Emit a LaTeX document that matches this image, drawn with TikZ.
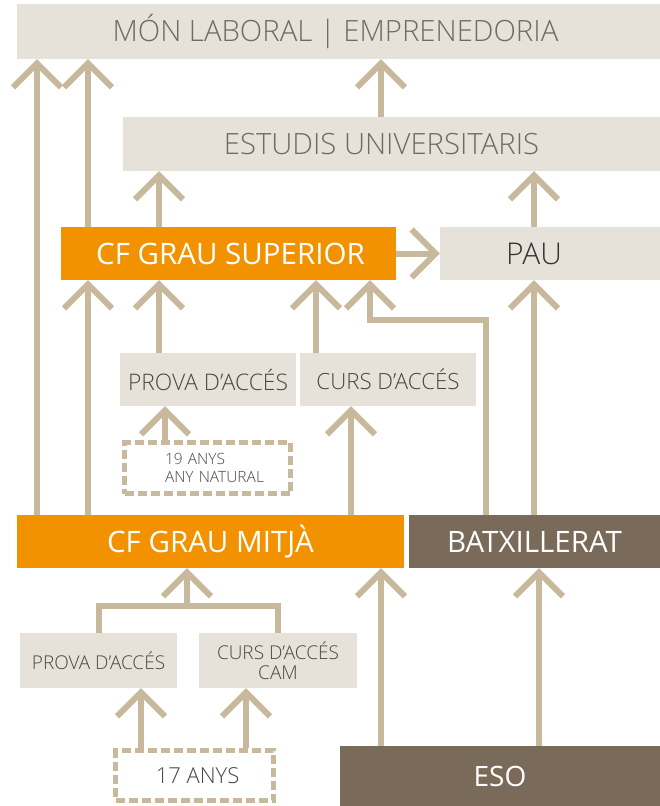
\documentclass[tikz,border=0pt]{standalone}
\usepackage{fontspec}
\setmainfont{Open Sans}
\IfFontExistsTF{Open Sans Light}{\newfontfamily\lightf{Open Sans Light}}{\newfontfamily\lightf{Open Sans}}
\usetikzlibrary{arrows.meta}
\definecolor{linec}{HTML}{C9B99C}
\definecolor{boxc}{HTML}{E7E2D9}
\definecolor{orangec}{HTML}{F39200}
\definecolor{brownc}{HTML}{7A6A5A}
\definecolor{textc}{HTML}{726960}
\definecolor{darkc}{HTML}{4A4540}
\newcommand\fsz[1]{\fontsize{#1}{1.2\dimexpr#1pt\relax}\selectfont}
\begin{document}
\begin{tikzpicture}[x=1pt,y=-1pt,
  lbox/.style={fill=boxc, inner sep=0pt, text=darkc},
  obox/.style={fill=orangec, inner sep=0pt, text=white},
  bbox/.style={fill=brownc, inner sep=0pt, text=white},
  dbox/.style={draw=linec, line width=5pt, dash pattern=on 9pt off 4pt, fill=white, inner sep=0pt, text=darkc},
  conn/.style={draw=linec, line width=6pt},
  arr/.style={conn, -{Straight Barb[sharp, length=24pt, width=48pt]}}]
\useasboundingbox (0,0) rectangle (660,806);

% boxes
\node[lbox, minimum width=643pt, minimum height=55pt, font=\lightf\fsz{29.3}, text=textc] (mon) at (338.5,31.5) {\hspace*{-6pt}M\'ON LABORAL | EMPRENEDORIA};
\node[lbox, minimum width=537pt, minimum height=54pt, font=\lightf\fsz{29.3}, text=textc] (est) at (391.5,144) {\hspace*{-20pt}ESTUDIS UNIVERSITARIS};
\node[obox, minimum width=335pt, minimum height=53pt, font=\fsz{29.5}] (cfgs) at (228.5,253.5) {\hspace*{4pt}CF GRAU SUPERIOR};
\node[lbox, minimum width=220pt, minimum height=53pt, font=\lightf\fsz{30}, text=black!80] (pau) at (550,253.5) {\hspace*{-32pt}PAU};
\node[lbox, minimum width=176pt, minimum height=53pt, font=\lightf\fsz{22.8}] (prova1) at (208,379.5) {PROVA D’ACC\'ES};
\node[lbox, minimum width=176pt, minimum height=53pt, font=\lightf\fsz{22.3}] (curs1) at (388,379.5) {CURS D’ACC\'ES};
\node[dbox, minimum width=166pt, minimum height=51pt, text width=85pt, inner xsep=40.5pt, align=left, font=\lightf\fsz{15.5}] (d19) at (207.5,468) {19 ANYS\\\makebox[85pt][l]{ANY NATURAL}};
\node[obox, minimum width=387pt, minimum height=53pt, font=\fsz{29.5}] (cfgm) at (210.5,541.5) {CF GRAU MITJ\`A};
\node[bbox, minimum width=251pt, minimum height=53pt, font=\fsz{29.5}] (batx) at (534.5,541.5) {BATXILLERAT};
\node[lbox, minimum width=157pt, minimum height=55pt, font=\lightf\fsz{19}] (prova2) at (98.5,660.5) {PROVA D’ACC\'ES};
\node[lbox, minimum width=158pt, minimum height=55pt, font=\lightf\fsz{19}, align=center] (curs2) at (278,660.5) {CURS D’ACC\'ES\\[-3pt]CAM};
\node[dbox, minimum width=158pt, minimum height=50pt, font=\lightf\fsz{22}] (d17) at (194.5,775.5) {\hspace*{6pt}17 ANYS};
\node[bbox, minimum width=320pt, minimum height=60pt, font=\fsz{28}] (eso) at (500,776) {ESO};

% column coordinates
\coordinate (x37) at (37,0);
\coordinate (x88) at (88,0);
\coordinate (x159) at (159,0);
\coordinate (x165) at (165,0);
\coordinate (x316) at (316,0);
\coordinate (x351) at (351,0);
\coordinate (x381) at (381,0);
\coordinate (x534) at (534,0);
\coordinate (x539) at (539,0);
\coordinate (x141) at (141,0);
\coordinate (x246) at (246,0);
\coordinate (k1) at (486,320);
\coordinate (k2) at (370,320);
\coordinate (b1) at (99,606);
\coordinate (b2) at (278,606);
\coordinate (bc) at (187,606);

% connectors
\draw[arr] (cfgm.north -| x37) -- (mon.south -| x37);
\draw[arr] (cfgm.north -| x88) -- (cfgs.south -| x88);
\draw[arr] (cfgs.north -| x88) -- (mon.south -| x88);
\draw[arr] (cfgs.north -| x159) -- (est.south -| x159);
\draw[arr] (est.north -| x381) -- (mon.south -| x381);
\draw[arr] (pau.north -| x534) -- (est.south -| x534);
\draw[arr] (cfgs.east) -- (pau.west);
\draw[arr] (prova1.north -| x159) -- (cfgs.south -| x159);
\draw[arr] (curs1.north -| x316) -- (cfgs.south -| x316);
\draw[arr] (d19.north -| x165) -- (prova1.south -| x165);
\draw[arr] (cfgm.north -| x351) -- (curs1.south -| x351);
\draw[arr] (batx.north -| k1) -- (k1) -- (k2) -- (cfgs.south -| k2);
\draw[arr] (batx.north -| x534) -- (pau.south -| x534);
\draw[conn] (prova2.north -| b1) -- (b1) -- (b2) -- (curs2.north -| b2);
\draw[arr] (bc) -- (cfgm.south -| bc);
\draw[arr] (d17.north -| x141) -- (prova2.south -| x141);
\draw[arr] (d17.north -| x246) -- (curs2.south -| x246);
\draw[arr] (eso.north -| x381) -- (cfgm.south -| x381);
\draw[arr] (eso.north -| x539) -- (batx.south -| x539);
\end{tikzpicture}
\end{document}
